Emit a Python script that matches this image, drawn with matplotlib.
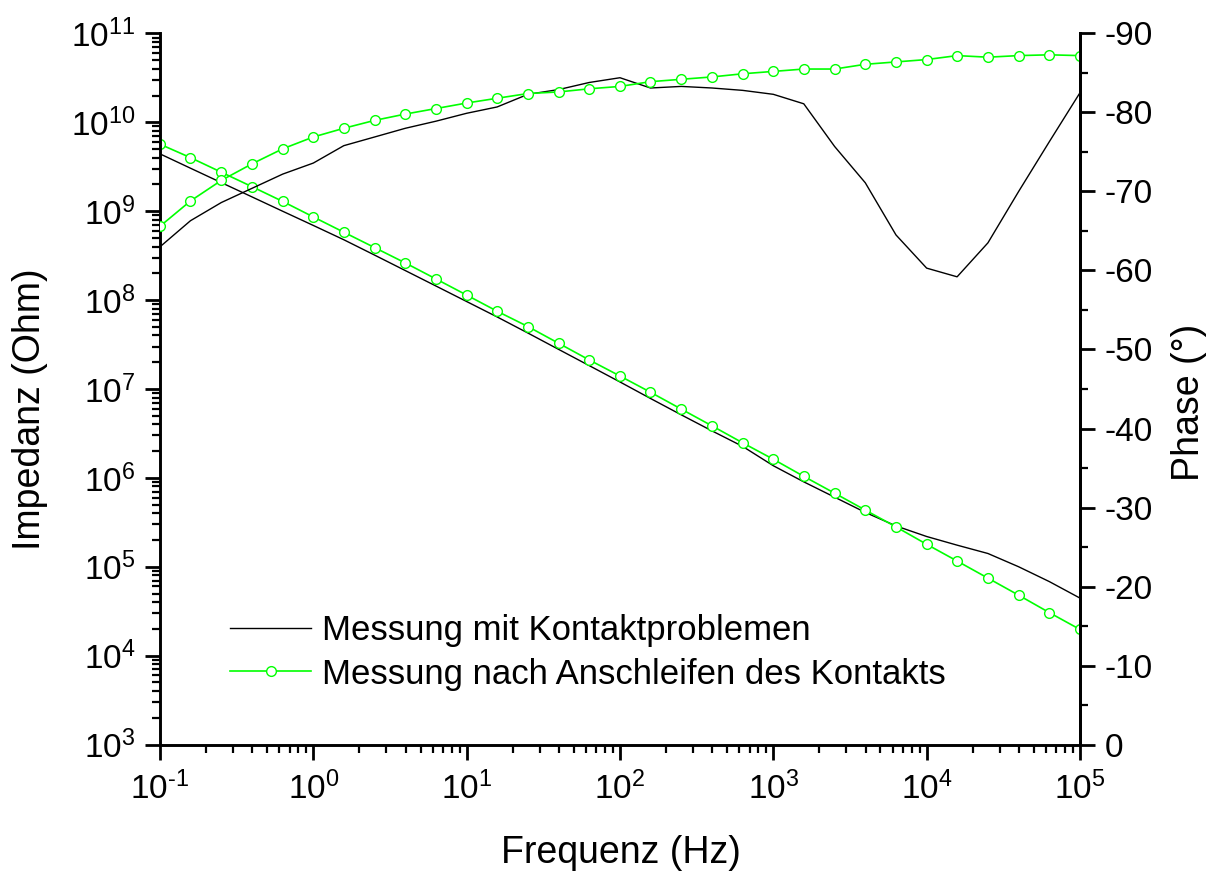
import math
import matplotlib
matplotlib.use("Agg")
import matplotlib.pyplot as plt
from matplotlib.ticker import LogLocator, MultipleLocator, NullFormatter, FuncFormatter

plt.rcParams['font.family'] = ['Liberation Sans', 'DejaVu Sans']
plt.rcParams['mathtext.fontset'] = 'custom'
plt.rcParams['mathtext.rm'] = 'Liberation Sans'
plt.rcParams['mathtext.it'] = 'Liberation Sans:italic'
plt.rcParams['mathtext.bf'] = 'Liberation Sans:bold'
plt.rcParams['axes.unicode_minus'] = False

# Frequency sweep, 5 points per decade (Hz)
freq_hz = [0.1, 0.158, 0.251, 0.398, 0.631,
           1.0, 1.58, 2.51, 3.98, 6.31,
           10.0, 15.8, 25.1, 39.8, 63.1,
           100.0, 158.0, 251.0, 398.0, 631.0,
           1.0e3, 1.58e3, 2.51e3, 3.98e3, 6.31e3,
           1.0e4, 1.58e4, 2.51e4, 3.98e4, 6.31e4,
           1.0e5]

# Measurement with contact problems
z_contact_problem = [4.42e9, 3.05e9, 2.10e9, 1.45e9, 1.00e9,
                     6.92e8, 4.78e8, 3.21e8, 2.15e8, 1.44e8,
                     9.64e7, 6.47e7, 4.26e7, 2.79e7, 1.83e7,
                     1.20e7, 7.83e6, 5.12e6, 3.38e6, 2.26e6,
                     1.37e6, 9.02e5, 6.07e5, 4.09e5, 2.88e5,
                     2.19e5, 1.75e5, 1.41e5, 1.00e5, 6.81e4,
                     4.44e4]
phase_contact_problem = [-63.0, -66.3, -68.6, -70.4, -72.2,
                         -73.6, -75.8, -76.9, -78.0, -78.9,
                         -79.9, -80.7, -82.3, -82.9, -83.8,
                         -84.4, -83.1, -83.3, -83.1, -82.8,
                         -82.3, -81.1, -75.7, -71.1, -64.5,
                         -60.3, -59.2, -63.5, -70.0, -76.3,
                         -82.5]

# Measurement after regrinding the contact
z_reground = [5.68e9, 4.01e9, 2.75e9, 1.89e9, 1.29e9,
              8.63e8, 5.81e8, 3.90e8, 2.62e8, 1.73e8,
              1.14e8, 7.50e7, 5.04e7, 3.27e7, 2.12e7,
              1.40e7, 9.20e6, 5.94e6, 3.85e6, 2.48e6,
              1.62e6, 1.04e6, 6.73e5, 4.34e5, 2.81e5,
              1.79e5, 1.16e5, 7.45e4, 4.79e4, 3.05e4,
              1.97e4]
phase_reground = [-65.6, -68.8, -71.4, -73.5, -75.4,
                  -76.9, -78.0, -79.0, -79.8, -80.5,
                  -81.2, -81.8, -82.4, -82.6, -83.0,
                  -83.3, -83.9, -84.2, -84.5, -84.9,
                  -85.2, -85.5, -85.5, -86.1, -86.4,
                  -86.7, -87.2, -87.0, -87.2, -87.3,
                  -87.2]

label_contact = 'Messung mit Kontaktproblemen'
label_reground = 'Messung nach Anschleifen des Kontakts'

GREEN = '#00ff00'
TICK_FS = 24
LABEL_FS = 27
LEGEND_FS = 25

fig = plt.figure(figsize=(12.14, 8.72), dpi=100)
ax = fig.add_axes([0.1318, 0.1462, 0.7578, 0.8154])
ax2 = ax.twinx()

# impedance magnitude (left, log)
line_contact, = ax.plot(freq_hz, z_contact_problem, color='black', lw=1.0)
line_reground, = ax.plot(freq_hz, z_reground, color=GREEN, lw=1.2,
                         marker='o', ms=7, mfc='white', mec=GREEN, mew=1.0)

# phase (right, linear, inverted)
ax2.plot(freq_hz, phase_contact_problem, color='black', lw=1.0)
ax2.plot(freq_hz, phase_reground, color=GREEN, lw=1.2,
         marker='o', ms=7, mfc='white', mec=GREEN, mew=1.0)

ax.set_xscale('log')
ax.set_yscale('log')
ax.set_xlim(0.1, 1e5)
ax.set_ylim(1e3, 1e11)
ax2.set_ylim(0, -90)


def pow10(v, pos):
    e = int(round(math.log10(v)))
    if e < 0:
        return r'$\mathregular{10^{\text{-}%d}}$' % (-e)
    return r'$\mathregular{10^{%d}}$' % e


for a in (ax.xaxis, ax.yaxis):
    a.set_major_locator(LogLocator(base=10, numticks=20))
    a.set_minor_locator(LogLocator(base=10, subs=range(2, 10), numticks=20))
    a.set_major_formatter(FuncFormatter(pow10))
    a.set_minor_formatter(NullFormatter())

ax2.yaxis.set_major_locator(MultipleLocator(10))
ax2.yaxis.set_minor_locator(MultipleLocator(5))
ax2.yaxis.set_major_formatter(FuncFormatter(lambda v, p: '%d' % round(v)))

for a in (ax, ax2):
    a.spines['top'].set_visible(False)
    for s in a.spines.values():
        s.set_linewidth(2.1)
ax2.spines['left'].set_visible(False)
ax2.spines['bottom'].set_visible(False)

ax.tick_params(which='major', direction='out', length=10.5, width=2.0,
               labelsize=TICK_FS, top=False, right=False)
ax.tick_params(which='minor', direction='out', length=5.8, width=1.6,
               top=False, right=False)
ax.tick_params(axis='x', which='major', pad=9)
ax.tick_params(axis='y', which='major', pad=7)
ax2.tick_params(which='major', direction='out', length=10.5, width=2.0,
                labelsize=TICK_FS, pad=7)
ax2.tick_params(which='minor', direction='out', length=5.8, width=1.6)

ax.set_xlabel('Frequenz (Hz)', fontsize=LABEL_FS)
ax.xaxis.set_label_coords(0.501, -0.1526)
ax.xaxis.label.set_va('center')

ax.set_ylabel('Impedanz (Ohm)', fontsize=LABEL_FS, rotation=90)
ax.yaxis.label.set_rotation_mode('default')
ax.yaxis.label.set_va('center')
ax.yaxis.label.set_ha('center')
ax.yaxis.set_label_coords(-0.1415, 0.472)

ax2.set_ylabel('Phase (°)', fontsize=LABEL_FS, rotation=90)
ax2.yaxis.label.set_rotation_mode('default')
ax2.yaxis.label.set_va('center')
ax2.yaxis.label.set_ha('center')
ax2.yaxis.set_label_coords(1.1185, 0.4817)

leg = ax2.legend([line_contact, line_reground], [label_contact, label_reground],
                 loc='center left', bbox_to_anchor=(0.0761, 0.1294),
                 frameon=False, fontsize=LEGEND_FS, borderpad=0, borderaxespad=0,
                 handlelength=2.34, handletextpad=0.3, labelspacing=0.29,
                 numpoints=1)

fig.savefig('out.png', dpi=100)
